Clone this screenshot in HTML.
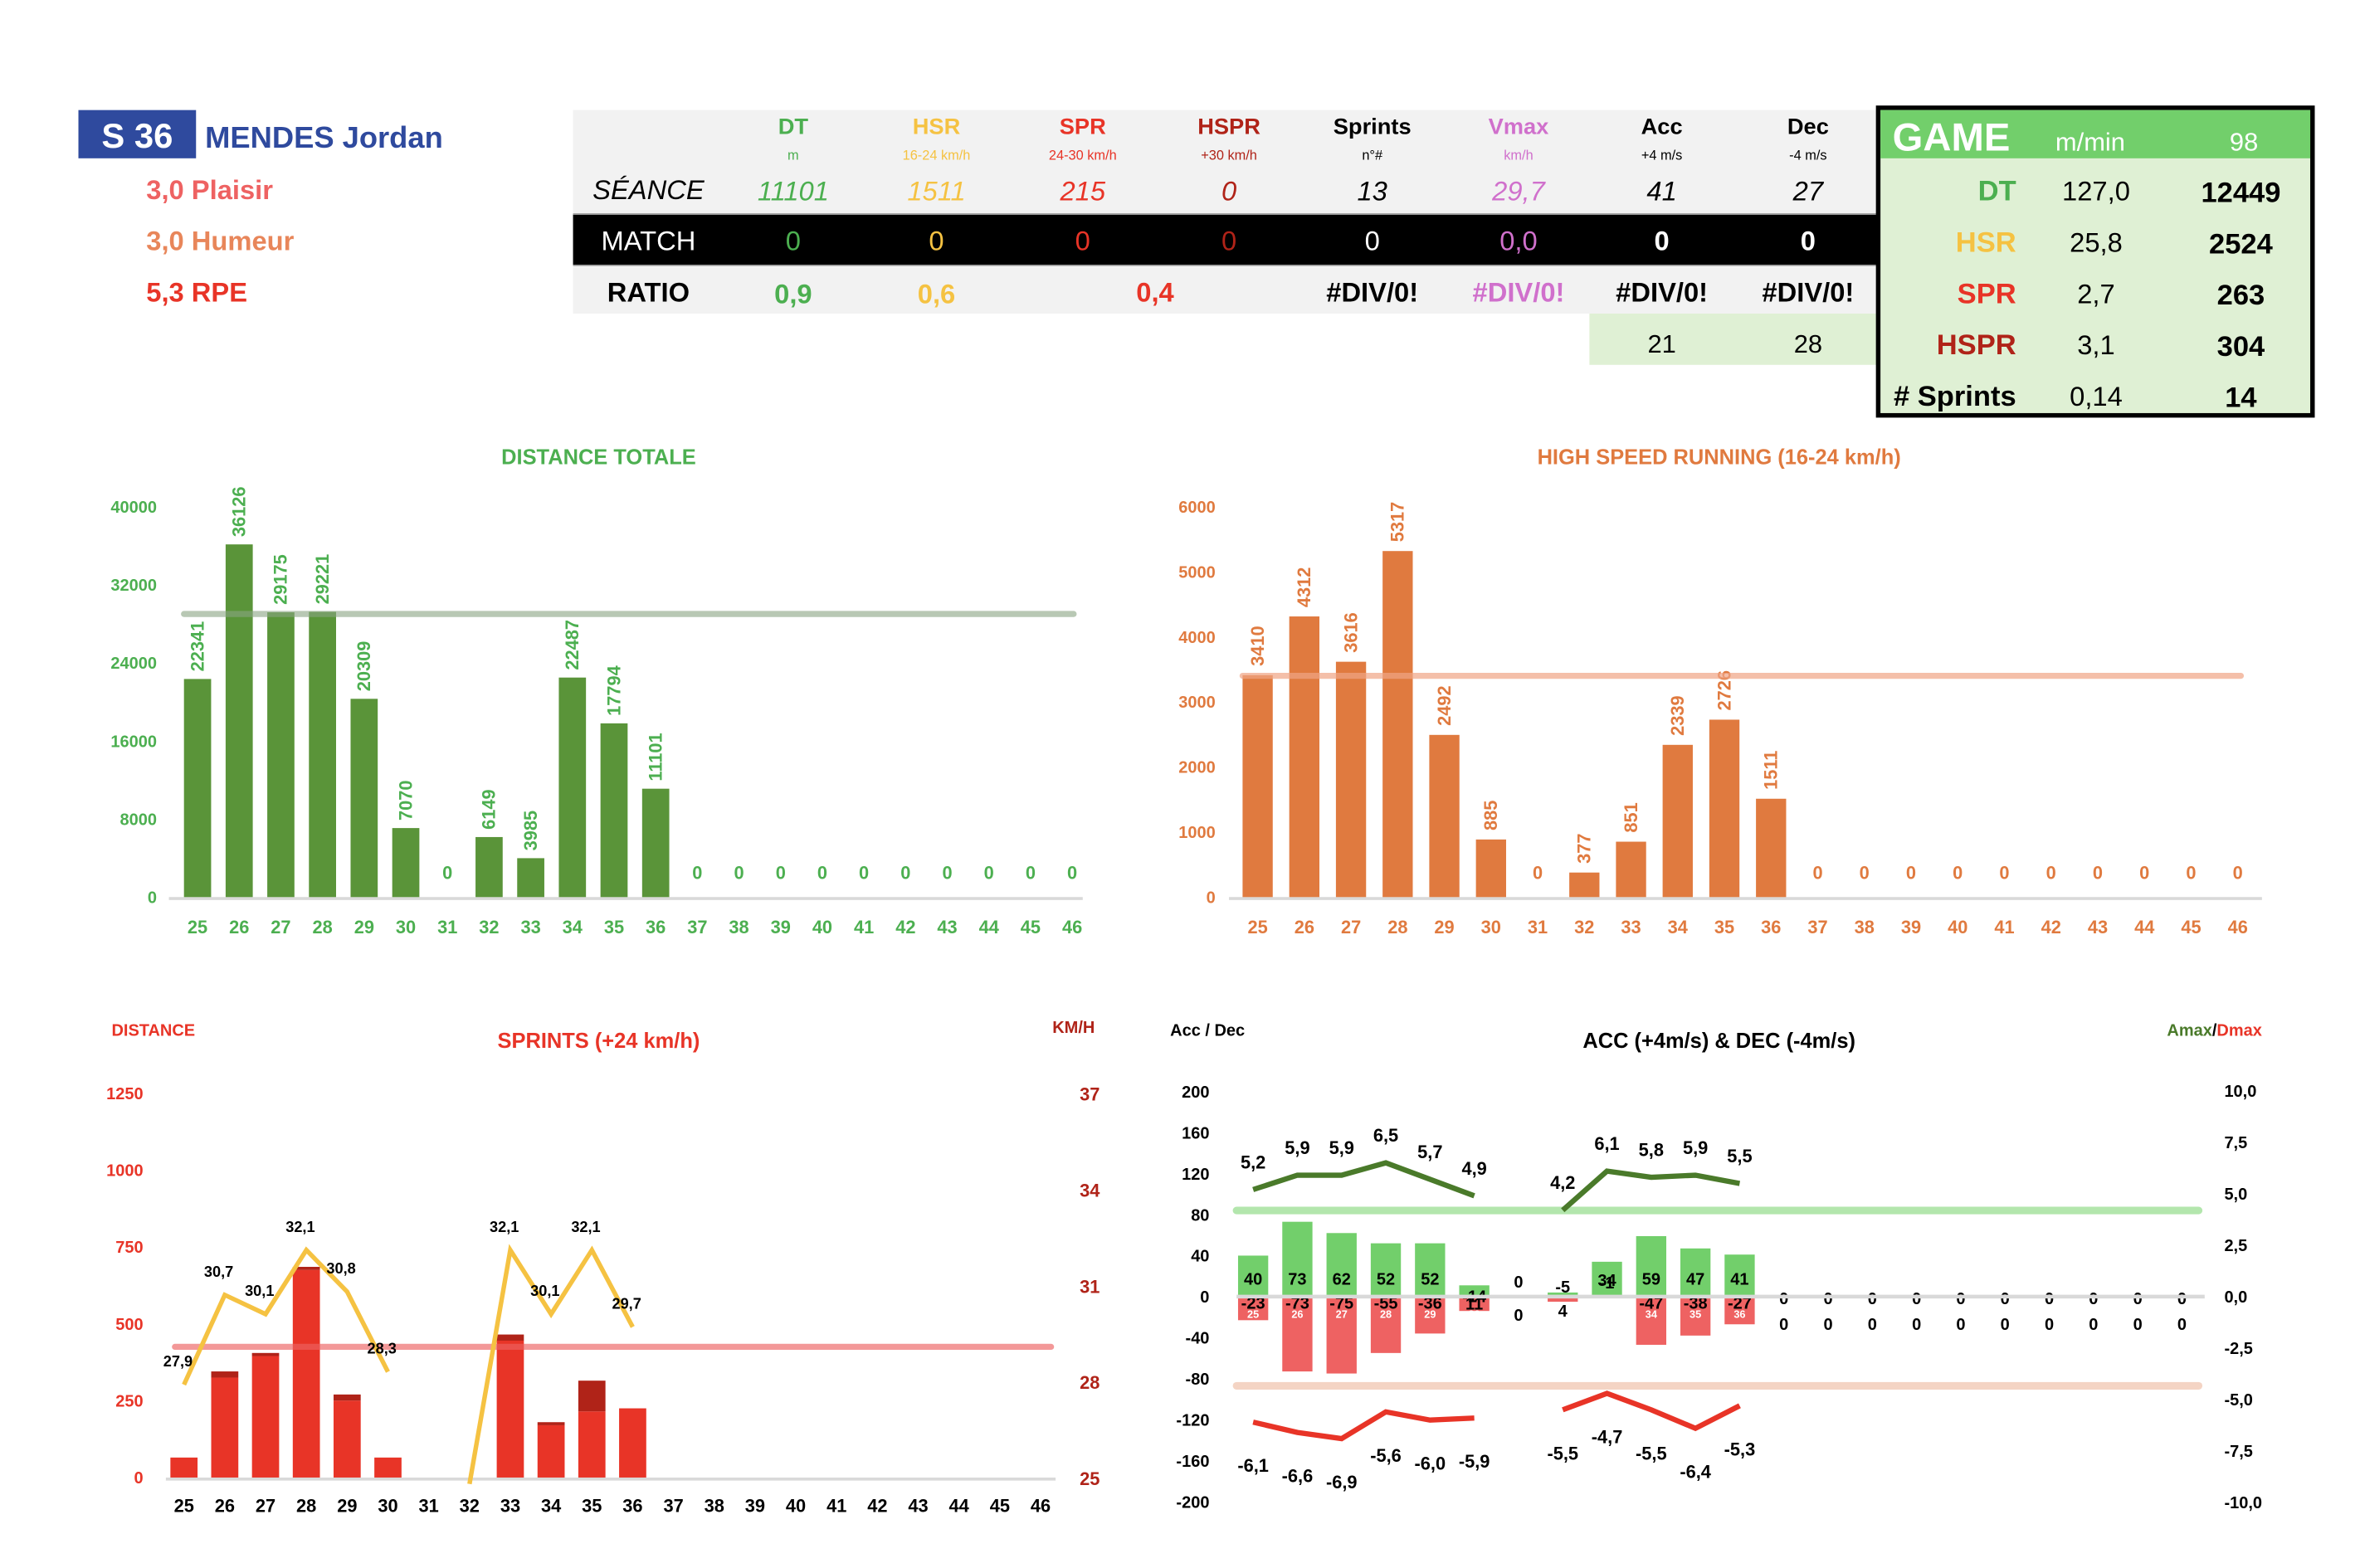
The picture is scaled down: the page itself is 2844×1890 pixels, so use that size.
<!DOCTYPE html>
<html><head><meta charset="utf-8">
<style>
html,body{margin:0;padding:0;background:#fff;}
svg{display:block;font-family:"Liberation Sans Narrow","Liberation Sans",sans-serif;}
</style></head>
<body>
<svg id="root" width="2844" height="1890" viewBox="0 0 1565 1040" preserveAspectRatio="none" xmlns="http://www.w3.org/2000/svg">
<rect width="1565" height="1040" fill="#fff"/>
<g>
<rect x="52" y="73" width="78" height="32" fill="#2f4a9e"/>
<text x="91" y="98" font-size="23" font-weight="bold" fill="#fff" text-anchor="middle">S 36</text>
<text x="136" y="98" font-size="20" font-weight="bold" fill="#2f4a9e">MENDES Jordan</text>
<text x="97" y="132" font-size="18" font-weight="bold" fill="#ee6262">3,0  Plaisir</text>
<text x="97" y="166" font-size="18" font-weight="bold" fill="#e8865a">3,0  Humeur</text>
<text x="97" y="200" font-size="18" font-weight="bold" fill="#e83427">5,3  RPE</text>
</g>
<g>
<rect x="380" y="73" width="865" height="69" fill="#f2f2f2"/>
<rect x="380" y="142" width="865" height="34" fill="#000"/>
<line x1="380" y1="142" x2="1245" y2="142" stroke="#999" stroke-width="1"/>
<line x1="380" y1="176" x2="1245" y2="176" stroke="#999" stroke-width="1"/>
<rect x="380" y="177" width="865" height="31" fill="#f2f2f2"/>
<rect x="1054" y="208" width="191" height="34" fill="#dff0d4"/>
<g font-size="15" font-weight="bold" text-anchor="middle">
<text x="526" y="89" fill="#4caf50">DT</text><text x="621" y="89" fill="#f5c242">HSR</text><text x="718" y="89" fill="#e83427">SPR</text><text x="815" y="89" fill="#b02318">HSPR</text><text x="910" y="89" fill="#000">Sprints</text><text x="1007" y="89" fill="#d070cc">Vmax</text><text x="1102" y="89" fill="#000">Acc</text><text x="1199" y="89" fill="#000">Dec</text>
</g>
<g font-size="9" text-anchor="middle">
<text x="526" y="106" fill="#4caf50">m</text><text x="621" y="106" fill="#f5c242">16-24 km/h</text><text x="718" y="106" fill="#e83427">24-30 km/h</text><text x="815" y="106" fill="#b02318">+30 km/h</text><text x="910" y="106" fill="#000">n°#</text><text x="1007" y="106" fill="#d070cc">km/h</text><text x="1102" y="106" fill="#000">+4 m/s</text><text x="1199" y="106" fill="#000">-4 m/s</text>
</g>
<g font-size="18" font-style="italic" text-anchor="middle">
<text x="430" y="132" fill="#000">SÉANCE</text><text x="526" y="133" fill="#4caf50">11101</text><text x="621" y="133" fill="#f5c242">1511</text><text x="718" y="133" fill="#e83427">215</text><text x="815" y="133" fill="#b02318">0</text><text x="910" y="133" fill="#000">13</text><text x="1007" y="133" fill="#d070cc">29,7</text><text x="1102" y="133" fill="#000">41</text><text x="1199" y="133" fill="#000">27</text>
</g>
<g font-size="18" text-anchor="middle">
<text x="430" y="166" fill="#fff">MATCH</text><text x="526" y="166" fill="#4caf50">0</text><text x="621" y="166" fill="#f5c242">0</text><text x="718" y="166" fill="#e83427">0</text><text x="815" y="166" fill="#b02318">0</text><text x="910" y="166" fill="#fff">0</text><text x="1007" y="166" fill="#d070cc">0,0</text><text x="1102" y="166" fill="#fff" font-weight="bold">0</text><text x="1199" y="166" fill="#fff" font-weight="bold">0</text>
</g>
<g font-size="18" font-weight="bold" text-anchor="middle">
<text x="430" y="200" fill="#000">RATIO</text><text x="526" y="201" fill="#4caf50">0,9</text><text x="621" y="201" fill="#f5c242">0,6</text><text x="766" y="200" fill="#e83427">0,4</text><text x="910" y="200" fill="#000">#DIV/0!</text><text x="1007" y="200" fill="#d070cc">#DIV/0!</text><text x="1102" y="200" fill="#000">#DIV/0!</text><text x="1199" y="200" fill="#000">#DIV/0!</text>
</g>
<g font-size="17" text-anchor="middle"><text x="1102" y="234">21</text><text x="1199" y="234">28</text></g>
</g>
<g>
<rect x="1245.5" y="71.5" width="288" height="204" fill="#dff0d4" stroke="#000" stroke-width="3"/>
<rect x="1247" y="73" width="285" height="32" fill="#72cf6b"/>
<text x="1255" y="100" font-size="26" font-weight="bold" fill="#fff">GAME</text>
<text x="1363" y="100" font-size="17" fill="#fff">m/min</text>
<text x="1488" y="100" font-size="17" fill="#fff" text-anchor="middle">98</text>
<g font-size="19" font-weight="bold" text-anchor="end">
<text x="1337" y="133" fill="#4caf50">DT</text><text x="1337" y="167" fill="#f5c242">HSR</text><text x="1337" y="201" fill="#e83427">SPR</text><text x="1337" y="235" fill="#b02318">HSPR</text><text x="1337" y="269" fill="#000"># Sprints</text>
</g>
<g font-size="18" text-anchor="middle">
<text x="1390" y="133">127,0</text><text x="1390" y="167">25,8</text><text x="1390" y="201">2,7</text><text x="1390" y="235">3,1</text><text x="1390" y="269">0,14</text>
</g>
<g font-size="19" font-weight="bold" text-anchor="middle">
<text x="1486" y="134">12449</text><text x="1486" y="168">2524</text><text x="1486" y="202">263</text><text x="1486" y="236">304</text><text x="1486" y="270">14</text>
</g>
</g>
<g font-weight="bold" text-anchor="middle">
<text x="397" y="308" font-size="14" fill="#4caf50">DISTANCE  TOTALE</text>
<text x="1140" y="308" font-size="14" fill="#e07a3f">HIGH SPEED RUNNING  (16-24 km/h)</text>
<text x="397" y="695" font-size="14" fill="#e83427">SPRINTS  (+24 km/h)</text>
<text x="1140" y="695" font-size="14" fill="#000">ACC  (+4m/s)  &amp;  DEC  (-4m/s)</text>
</g>
<g font-size="11" font-weight="bold">
<text x="74" y="687" fill="#e83427">DISTANCE</text>
<text x="726" y="685" fill="#b02318" text-anchor="end">KM/H</text>
<text x="776" y="687" fill="#000">Acc / Dec</text>
<text x="1500" y="687" text-anchor="end"><tspan fill="#4a7a2a">Amax</tspan><tspan fill="#000">/</tspan><tspan fill="#e83427">Dmax</tspan></text>
</g>
<g id="charts"></g>
</svg>
<script>
const weeks = [25,26,27,28,29,30,31,32,33,34,35,36,37,38,39,40,41,42,43,44,45,46];
const dtValues = [22341,36126,29175,29221,20309,7070,0,6149,3985,22487,17794,11101,0,0,0,0,0,0,0,0,0,0];
const dtTicks = [0,8000,16000,24000,32000,40000];
const dtRef = 29000;
const hsrValues = [3410,4312,3616,5317,2492,885,0,377,851,2339,2726,1511,0,0,0,0,0,0,0,0,0,0];
const hsrTicks = [0,1000,2000,3000,4000,5000,6000];
const hsrRef = 3400;
const sprDist = [65,325,395,675,250,65,0,0,445,170,215,225,0,0,0,0,0,0,0,0,0,0];
const hsprDist = [0,20,10,10,20,0,0,0,20,10,100,0,0,0,0,0,0,0,0,0,0,0];
const vmax = [27.9,30.7,30.1,32.1,30.8,28.3,null,24.8,32.1,30.1,32.1,29.7];
const sprLeftTicks = [0,250,500,750,1000,1250];
const sprRightTicks = [25,28,31,34,37];
const sprRef = 425;
const accValues = [40,73,62,52,52,11,0,4,34,59,47,41];
const decValues = [-23,-73,-75,-55,-36,-14,0,-5,-1,-47,-38,-27];
const amax = [5.2,5.9,5.9,6.5,5.7,4.9,null,4.2,6.1,5.8,5.9,5.5];
const dmax = [-6.1,-6.6,-6.9,-5.6,-6.0,-5.9,null,-5.5,-4.7,-5.5,-6.4,-5.3];
const accLeftTicks = [200,160,120,80,40,0,-40,-80,-120,-160,-200];
const accRightTicks = ["10,0","7,5","5,0","2,5","0,0","-2,5","-5,0","-7,5","-10,0"];
const accRefHigh = 84, accRefLow = -87;

const NS = "http://www.w3.org/2000/svg";
const root = document.getElementById('charts');
function mk(tag, attrs, txt){const e=document.createElementNS(NS,tag);for(const k in attrs)e.setAttribute(k,attrs[k]);if(txt!==undefined)e.textContent=txt;root.appendChild(e);return e;}
function fmt(v){return String(v).replace('.',',');}

const dx = i => 131 + i*27.62;
const dy = v => 595 - v/40000*259;
let e;
e = mk('line',{x1:112,y1:596,x2:718,y2:596,stroke:'#d9d9d9','stroke-width':2});


dtTicks.forEach(t=>{
  e = mk('text',{x:104,y:dy(t)+4,'font-size':11,'font-weight':'bold',fill:'#4caf50','text-anchor':'end'},String(t));
  
  
});
weeks.forEach((w,i)=>{
  e = mk('text',{x:dx(i),y:619,'font-size':12,'font-weight':'bold',fill:'#4caf50','text-anchor':'middle'},String(w));
  
  
  const v = dtValues[i];
  if(v>0){
    e = mk('rect',{x:dx(i)-9,y:dy(v),width:18,height:595-dy(v),fill:'#5a9439'});
    
    
    e = mk('text',{x:0,y:0,'font-size':12,'font-weight':'bold',fill:'#4caf50',transform:`translate(${dx(i)+4},${dy(v)-5}) rotate(-90)`},String(v));
    
    
  } else {
    e = mk('text',{x:dx(i),y:583,'font-size':12,'font-weight':'bold',fill:'#4caf50','text-anchor':'middle'},'0');
    
    
  }
});
e = mk('line',{x1:122,y1:dy(dtRef),x2:712,y2:dy(dtRef),stroke:'#8aa583','stroke-width':4,opacity:0.6,'stroke-linecap':'round'});



const hx = i => 834 + i*30.95;
const hy = v => 595 - v/6000*259;
e = mk('line',{x1:815,y1:596,x2:1500,y2:596,stroke:'#d9d9d9','stroke-width':2});


hsrTicks.forEach(t=>{
  e = mk('text',{x:806,y:hy(t)+4,'font-size':11,'font-weight':'bold',fill:'#e07a3f','text-anchor':'end'},String(t));
  
  
});
weeks.forEach((w,i)=>{
  e = mk('text',{x:hx(i),y:619,'font-size':12,'font-weight':'bold',fill:'#e07a3f','text-anchor':'middle'},String(w));
  
  
  const v = hsrValues[i];
  if(v>0){
    e = mk('rect',{x:hx(i)-10,y:hy(v),width:20,height:595-hy(v),fill:'#e07a3f'});
    
    
    e = mk('text',{x:0,y:0,'font-size':12,'font-weight':'bold',fill:'#e07a3f',transform:`translate(${hx(i)+4},${hy(v)-6}) rotate(-90)`},String(v));
    
    
  } else {
    e = mk('text',{x:hx(i),y:583,'font-size':12,'font-weight':'bold',fill:'#e07a3f','text-anchor':'middle'},'0');
    
    
  }
});
e = mk('line',{x1:824,y1:hy(hsrRef),x2:1486,y2:hy(hsrRef),stroke:'#f0a585','stroke-width':4,opacity:0.7,'stroke-linecap':'round'});



const sx = i => 122 + i*27.05;
const sy = v => 980 - v/1250*255;
const sr = s => 980 - (s-25)/12*255;
e = mk('line',{x1:110,y1:981,x2:700,y2:981,stroke:'#d9d9d9','stroke-width':2});


sprLeftTicks.forEach(t=>{
  e = mk('text',{x:95,y:sy(t)+4,'font-size':11,'font-weight':'bold',fill:'#e83427','text-anchor':'end'},String(t));
  
  
});
sprRightTicks.forEach(t=>{
  e = mk('text',{x:716,y:sr(t)+5,'font-size':12,'font-weight':'bold',fill:'#b02318'},String(t));
  
  
});
weeks.forEach((w,i)=>{
  e = mk('text',{x:sx(i),y:1003,'font-size':12,'font-weight':'bold',fill:'#000','text-anchor':'middle'},String(w));
  
  
  const a = sprDist[i], b = hsprDist[i];
  if(a>0){
    e = mk('rect',{x:sx(i)-9,y:sy(a),width:18,height:980-sy(a),fill:'#e83427'});
    
    
  }
  if(b>0){
    e = mk('rect',{x:sx(i)-9,y:sy(a+b),width:18,height:sy(a)-sy(a+b),fill:'#b02318'});
    
    
  }
});
e = mk('line',{x1:116,y1:sy(sprRef),x2:697,y2:sy(sprRef),stroke:'#ee6262','stroke-width':4,opacity:0.65,'stroke-linecap':'round'});


function segPath(arr, xf, yf){let d='',pen=false;arr.forEach((v,i)=>{if(v===null){pen=false;return;}d+=(pen?'L':'M')+xf(i)+','+yf(v)+' ';pen=true;});return d;}
e = mk('path',{d:segPath(vmax,sx,sr),fill:'none',stroke:'#f5c242','stroke-width':3});


vmax.forEach((v,i)=>{
  if(v===null||v<25) return;
  e = mk('text',{x:sx(i)-4,y:sr(v)-12,'font-size':10,'font-weight':'bold',fill:'#000','text-anchor':'middle'},fmt(v));
  
  
});

const ax = i => 831 + i*29.33;
const ay = v => 860 - v*0.68;
const ar = a => 860 - a*13.65;
accLeftTicks.forEach(t=>{
  e = mk('text',{x:802,y:ay(t)+4,'font-size':11,'font-weight':'bold',fill:'#000','text-anchor':'end'},String(t));
  
  
});
accRightTicks.forEach((t,k)=>{
  e = mk('text',{x:1475,y:ar(10-k*2.5)+4,'font-size':11,'font-weight':'bold',fill:'#000'},t);
  
  
});
e = mk('line',{x1:820,y1:ay(accRefHigh),x2:1458,y2:ay(accRefHigh),stroke:'#b3e6ad','stroke-width':5,'stroke-linecap':'round'});


e = mk('line',{x1:820,y1:ay(accRefLow),x2:1458,y2:ay(accRefLow),stroke:'#f4d4c4','stroke-width':5,'stroke-linecap':'round'});


weeks.forEach((w,i)=>{
  if(i<accValues.length){
    const a = accValues[i], d = decValues[i];
    if(a>0){
      e = mk('rect',{x:ax(i)-10,y:ay(a),width:20,height:860-ay(a),fill:'#72cf6b'});
      
      
    }
    if(d<0){
      e = mk('rect',{x:ax(i)-10,y:860,width:20,height:ay(d)-860,fill:'#ee6262'});
      
      
    }
    e = mk('text',{x:ax(i),y:Math.max(ay(a)+16, 852),'font-size':11,'font-weight':'bold',fill:'#000','text-anchor':'middle'},String(a));
    
    
    e = mk('text',{x:ax(i),y:Math.min(ay(d)-6, 868),'font-size':11,'font-weight':'bold',fill:'#000','text-anchor':'middle'},String(d));
    
    
    if(d<-10){
      e = mk('text',{x:ax(i),y:874,'font-size':7,'font-weight':'bold',fill:'#fff','text-anchor':'middle'},String(w));
      
      
    }
  } else {
    e = mk('text',{x:ax(i),y:865,'font-size':11,'font-weight':'bold',fill:'#000','text-anchor':'middle'},'0');
    
    
    e = mk('text',{x:ax(i),y:882,'font-size':11,'font-weight':'bold',fill:'#000','text-anchor':'middle'},'0');
    
    
  }
});
e = mk('line',{x1:820,y1:860,x2:1462,y2:860,stroke:'#d9d9d9','stroke-width':2.5});


e = mk('path',{d:segPath(amax,ax,ar),fill:'none',stroke:'#4a7a2a','stroke-width':3.5});


e = mk('path',{d:segPath(dmax,ax,ar),fill:'none',stroke:'#e83427','stroke-width':3.5});


amax.forEach((v,i)=>{
  if(v===null) return;
  e = mk('text',{x:ax(i),y:ar(v)-14,'font-size':12,'font-weight':'bold',fill:'#000','text-anchor':'middle'},fmt(v.toFixed(1)));
  
  
});
dmax.forEach((v,i)=>{
  if(v===null) return;
  e = mk('text',{x:ax(i),y:ar(v)+33,'font-size':12,'font-weight':'bold',fill:'#000','text-anchor':'middle'},fmt(v.toFixed(1)));
  
  
});
</script>
</body></html>
